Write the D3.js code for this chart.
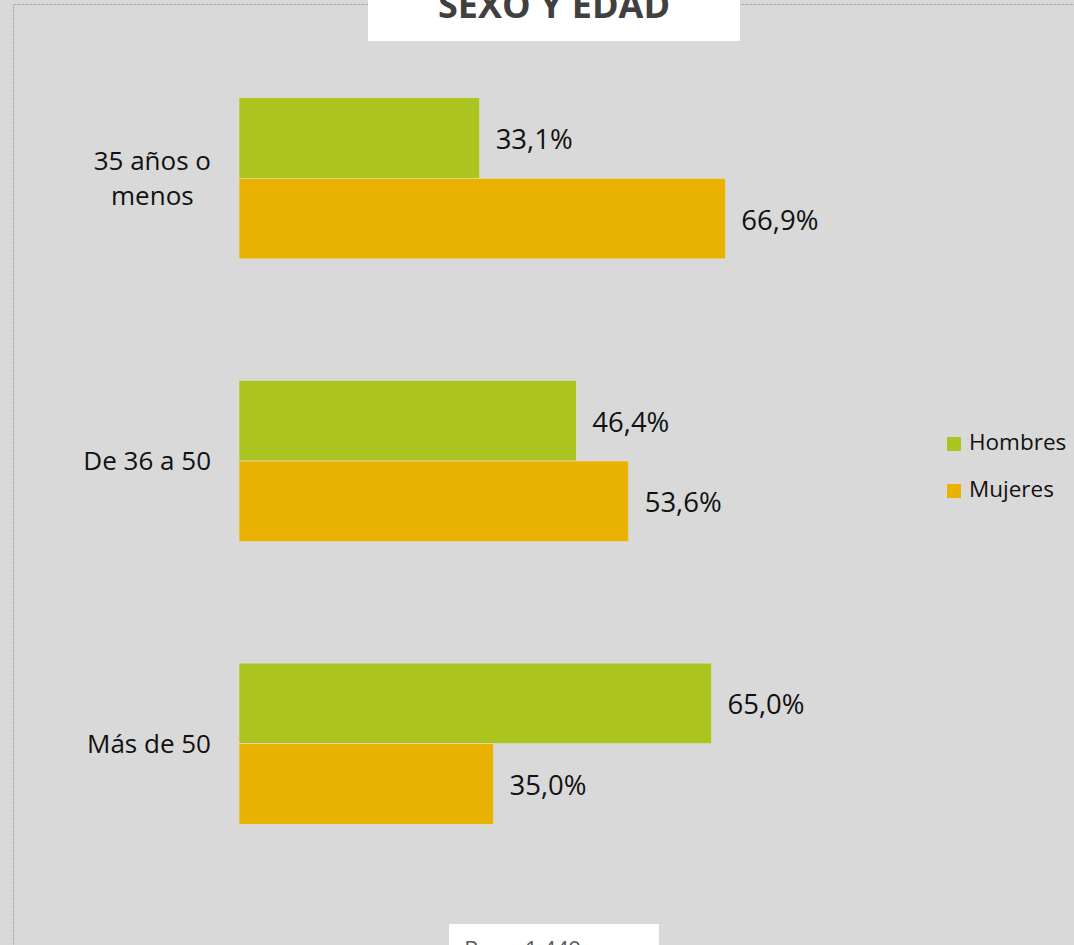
<!DOCTYPE html>
<html>
<head>
<meta charset="utf-8">
<style>
    body { margin: 0; background: #d9d9d9; }
    svg { display: block; font-family: 'Open Sans', sans-serif; }
    .cat { font-size: 26px; fill: #111; }
    .val { font-size: 27.5px; fill: #111; }
    .legend { font-size: 22.5px; fill: #111; }
</style>
</head>
<body>
<svg width="1074" height="945"></svg>
<script src="https://d3js.org/d3.v7.min.js"></script>
<script>
    let categories = ["35 años o menos", "De 36 a 50", "Más de 50"]
    let seriesNames = ["Hombres", "Mujeres"]
    let hombres = [33.1, 46.4, 65.0]
    let mujeres = [66.9, 53.6, 35.0]
    let colors = ["#acc41f", "#e9b200"]

    let svg = d3.select("svg")

    // dashed outer frame
    svg.append("rect")
        .attr("x", 13.5).attr("y", 4.5)
        .attr("width", 1100).attr("height", 1000)
        .attr("fill", "#d9d9d9")
        .attr("stroke", "#ababab")
        .attr("stroke-dasharray", "3,1")

    let x = d3.scaleLinear().domain([0, 100]).range([239, 966])
    let y = d3.scaleBand().domain(categories).range([37, 885])
        .paddingInner(0.43).paddingOuter(0.215)
    let ySub = d3.scaleBand().domain(seriesNames).range([0, y.bandwidth()])

    let rows = categories.map((c, i) => ({ cat: c, values: [hombres[i], mujeres[i]] }))

    let groups = svg.selectAll(".grp")
        .data(rows)
        .join("g")
        .attr("class", "grp")
        .attr("transform", d => `translate(0,${y(d.cat)})`)

    groups.selectAll("rect")
        .data(d => d.values.map((v, j) => ({ key: seriesNames[j], v: v, j: j })))
        .join("rect")
        .attr("x", x(0))
        .attr("y", d => ySub(d.key))
        .attr("width", d => x(d.v) - x(0))
        .attr("height", ySub.bandwidth())
        .attr("fill", d => colors[d.j])
        .attr("stroke", "#e2e2d0")
        .attr("stroke-width", 0.6)

    groups.selectAll(".val")
        .data(d => d.values.map((v, j) => ({ key: seriesNames[j], v: v })))
        .join("text")
        .attr("class", "val")
        .attr("x", d => x(d.v) + 16)
        .attr("y", d => ySub(d.key) + ySub.bandwidth() / 2 + 11)
        .text(d => d3.format(".1f")(d.v).replace(".", ",") + "%")

    // category labels (wrap first one like the original)
    let catLines = [["35 años o", "menos"], ["De 36 a 50"], ["Más de 50"]]
    categories.forEach((c, i) => {
        let lines = catLines[i]
        let t = svg.append("text").attr("class", "cat").attr("text-anchor", "middle")
        let cy = y(c) + y.bandwidth() / 2
        let lh = 35
        let top = cy - (lines.length - 1) * lh / 2 + 9
        lines.forEach((l, k) => {
            t.append("tspan").attr("x", 0).attr("y", top + k * lh).text(l)
        })
        let w = t.node().getBBox().width
        t.selectAll("tspan").attr("x", 211 - w / 2)
    })

    // legend
    let leg = svg.selectAll(".leg")
        .data(seriesNames)
        .join("g")
        .attr("class", "leg")
        .attr("transform", (d, i) => `translate(947,${437 + i * 47})`)
    leg.append("rect").attr("width", 14).attr("height", 14).attr("fill", (d, i) => colors[i])
    leg.append("text").attr("class", "legend").attr("x", 22).attr("y", 13).text(d => d)

    // title box
    svg.append("rect").attr("x", 368).attr("y", 0).attr("width", 372).attr("height", 41).attr("fill", "#fff")
    svg.append("text")
        .attr("x", 554).attr("y", 18)
        .attr("text-anchor", "middle")
        .style("font-size", "36px").style("font-weight", "bold").style("fill", "#404040")
        .text("SEXO Y EDAD")

    // base note box
    svg.append("rect").attr("x", 449).attr("y", 924).attr("width", 210).attr("height", 30).attr("fill", "#fff")
    svg.append("text")
        .attr("x", 554).attr("y", 957)
        .attr("text-anchor", "middle")
        .style("font-size", "22px").style("fill", "#595959")
        .text("Base: 1.449 casos")
</script>
</body>
</html>
